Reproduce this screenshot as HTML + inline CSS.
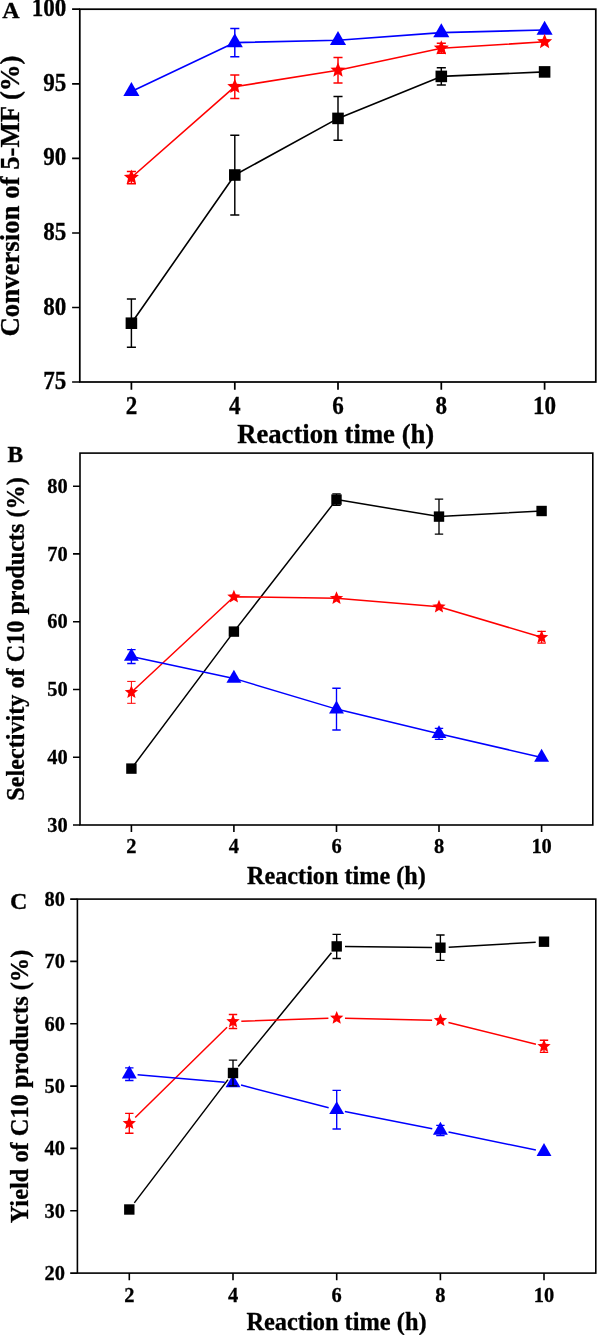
<!DOCTYPE html>
<html><head><meta charset="utf-8"><style>
html,body{margin:0;padding:0;background:#fff;}
svg{display:block;}
text{font-family:"Liberation Serif",serif;font-weight:bold;fill:#000;stroke:#000;stroke-width:0.3px;}
svg{will-change:transform;}
</style></head><body>
<svg width="597" height="1335" viewBox="0 0 597 1335" font-family="'Liberation Serif', serif" font-weight="bold">
<rect width="597" height="1335" fill="#fff"/>
<rect x="79.8" y="9.2" width="516.0" height="372.8" fill="none" stroke="#000" stroke-width="1.73"/>
<path d="M72.10,9.20H79.80M72.10,83.80H79.80M72.10,158.40H79.80M72.10,233.00H79.80M72.10,307.50H79.80M72.10,382.00H79.80M131.40,382.00V389.70M234.80,382.00V389.70M338.00,382.00V389.70M441.30,382.00V389.70M544.60,382.00V389.70" stroke="#000" stroke-width="1.73" fill="none"/>
<text x="0" y="0" transform="translate(66.30,16.20) scale(0.95,1)" font-size="24.3" text-anchor="end">100</text>
<text x="0" y="0" transform="translate(66.30,90.80) scale(0.95,1)" font-size="24.3" text-anchor="end">95</text>
<text x="0" y="0" transform="translate(66.30,165.40) scale(0.95,1)" font-size="24.3" text-anchor="end">90</text>
<text x="0" y="0" transform="translate(66.30,240.00) scale(0.95,1)" font-size="24.3" text-anchor="end">85</text>
<text x="0" y="0" transform="translate(66.30,314.50) scale(0.95,1)" font-size="24.3" text-anchor="end">80</text>
<text x="0" y="0" transform="translate(66.30,389.00) scale(0.95,1)" font-size="24.3" text-anchor="end">75</text>
<text x="0" y="0" transform="translate(131.40,413.50) scale(0.95,1)" font-size="24.3" text-anchor="middle">2</text>
<text x="0" y="0" transform="translate(234.80,413.50) scale(0.95,1)" font-size="24.3" text-anchor="middle">4</text>
<text x="0" y="0" transform="translate(338.00,413.50) scale(0.95,1)" font-size="24.3" text-anchor="middle">6</text>
<text x="0" y="0" transform="translate(441.30,413.50) scale(0.95,1)" font-size="24.3" text-anchor="middle">8</text>
<text x="0" y="0" transform="translate(544.60,413.50) scale(0.95,1)" font-size="24.3" text-anchor="middle">10</text>
<text x="335.7" y="442.6" font-size="26.7" text-anchor="middle">Reaction time (h)</text>
<text x="0" y="0" transform="translate(18.8,196.0) rotate(-90)" font-size="26.8" text-anchor="middle">Conversion of 5-MF (%)</text>
<text x="2.2" y="18.2" font-size="24" text-anchor="start">A</text>
<path d="M131.40,323.20 L234.80,175.00 L338.00,118.40 L441.30,76.40 L544.60,71.90" stroke="#000000" stroke-width="1.62" fill="none" stroke-linejoin="round"/>
<path d="M131.40,177.50 L234.80,86.70 L338.00,70.30 L441.30,48.20 L544.60,41.80" stroke="#ff0000" stroke-width="1.62" fill="none" stroke-linejoin="round"/>
<path d="M131.40,91.40 L234.80,42.60 L338.00,40.30 L441.30,32.60 L544.60,30.00" stroke="#0000ff" stroke-width="1.62" fill="none" stroke-linejoin="round"/>
<polygon points="131.40,82.11 123.35,96.05 139.45,96.05" fill="#0000ff"/>
<path d="M234.80,28.60V56.70M230.26,28.60H239.34M230.26,56.70H239.34" stroke="#0000ff" stroke-width="1.4580000000000002" fill="none"/>
<polygon points="234.80,33.31 226.75,47.25 242.85,47.25" fill="#0000ff"/>
<polygon points="338.00,31.01 329.95,44.95 346.05,44.95" fill="#0000ff"/>
<polygon points="441.30,23.31 433.25,37.25 449.35,37.25" fill="#0000ff"/>
<polygon points="544.60,20.71 536.55,34.65 552.65,34.65" fill="#0000ff"/>
<path d="M131.40,171.40V183.70M126.86,171.40H135.94M126.86,183.70H135.94" stroke="#ff0000" stroke-width="1.4580000000000002" fill="none"/>
<polygon points="131.40,169.56 133.50,174.61 138.95,175.05 134.80,178.60 136.07,183.92 131.40,181.07 126.73,183.92 128.00,178.60 123.85,175.05 129.30,174.61" fill="#ff0000"/>
<path d="M234.80,74.90V98.50M230.26,74.90H239.34M230.26,98.50H239.34" stroke="#ff0000" stroke-width="1.4580000000000002" fill="none"/>
<polygon points="234.80,78.76 236.90,83.81 242.35,84.25 238.20,87.80 239.47,93.12 234.80,90.27 230.13,93.12 231.40,87.80 227.25,84.25 232.70,83.81" fill="#ff0000"/>
<path d="M338.00,57.60V83.00M333.46,57.60H342.54M333.46,83.00H342.54" stroke="#ff0000" stroke-width="1.4580000000000002" fill="none"/>
<polygon points="338.00,62.36 340.10,67.41 345.55,67.85 341.40,71.40 342.67,76.72 338.00,73.87 333.33,76.72 334.60,71.40 330.45,67.85 335.90,67.41" fill="#ff0000"/>
<path d="M441.30,43.20V53.20M436.76,43.20H445.84M436.76,53.20H445.84" stroke="#ff0000" stroke-width="1.4580000000000002" fill="none"/>
<polygon points="441.30,40.26 443.40,45.31 448.85,45.75 444.70,49.30 445.97,54.62 441.30,51.77 436.63,54.62 437.90,49.30 433.75,45.75 439.20,45.31" fill="#ff0000"/>
<polygon points="544.60,33.86 546.70,38.91 552.15,39.35 548.00,42.90 549.27,48.22 544.60,45.37 539.93,48.22 541.20,42.90 537.05,39.35 542.50,38.91" fill="#ff0000"/>
<path d="M131.40,299.00V347.20M126.86,299.00H135.94M126.86,347.20H135.94" stroke="#000000" stroke-width="1.4580000000000002" fill="none"/>
<rect x="125.62" y="317.42" width="11.56896" height="11.56896" fill="#000"/>
<path d="M234.80,135.20V214.90M230.26,135.20H239.34M230.26,214.90H239.34" stroke="#000000" stroke-width="1.4580000000000002" fill="none"/>
<rect x="229.02" y="169.22" width="11.56896" height="11.56896" fill="#000"/>
<path d="M338.00,96.50V140.30M333.46,96.50H342.54M333.46,140.30H342.54" stroke="#000000" stroke-width="1.4580000000000002" fill="none"/>
<rect x="332.22" y="112.62" width="11.56896" height="11.56896" fill="#000"/>
<path d="M441.30,67.80V85.10M436.76,67.80H445.84M436.76,85.10H445.84" stroke="#000000" stroke-width="1.4580000000000002" fill="none"/>
<rect x="435.52" y="70.62" width="11.56896" height="11.56896" fill="#000"/>
<rect x="538.82" y="66.12" width="11.56896" height="11.56896" fill="#000"/>
<rect x="80.0" y="453.1" width="512.8" height="371.9" fill="none" stroke="#000" stroke-width="1.60"/>
<path d="M73.00,825.00H80.00M73.00,757.20H80.00M73.00,689.50H80.00M73.00,621.70H80.00M73.00,553.90H80.00M73.00,486.20H80.00M131.40,825.00V832.00M233.90,825.00V832.00M336.50,825.00V832.00M439.00,825.00V832.00M541.60,825.00V832.00" stroke="#000" stroke-width="1.60" fill="none"/>
<text x="0" y="0" transform="translate(67.70,831.70) scale(0.93,1)" font-size="22" text-anchor="end">30</text>
<text x="0" y="0" transform="translate(67.70,763.90) scale(0.93,1)" font-size="22" text-anchor="end">40</text>
<text x="0" y="0" transform="translate(67.70,696.20) scale(0.93,1)" font-size="22" text-anchor="end">50</text>
<text x="0" y="0" transform="translate(67.70,628.40) scale(0.93,1)" font-size="22" text-anchor="end">60</text>
<text x="0" y="0" transform="translate(67.70,560.60) scale(0.93,1)" font-size="22" text-anchor="end">70</text>
<text x="0" y="0" transform="translate(67.70,492.90) scale(0.93,1)" font-size="22" text-anchor="end">80</text>
<text x="0" y="0" transform="translate(131.40,853.40) scale(0.93,1)" font-size="22" text-anchor="middle">2</text>
<text x="0" y="0" transform="translate(233.90,853.40) scale(0.93,1)" font-size="22" text-anchor="middle">4</text>
<text x="0" y="0" transform="translate(336.50,853.40) scale(0.93,1)" font-size="22" text-anchor="middle">6</text>
<text x="0" y="0" transform="translate(439.00,853.40) scale(0.93,1)" font-size="22" text-anchor="middle">8</text>
<text x="0" y="0" transform="translate(541.60,853.40) scale(0.93,1)" font-size="22" text-anchor="middle">10</text>
<text x="336.4" y="883.6" font-size="24.2" text-anchor="middle">Reaction time (h)</text>
<text x="0" y="0" transform="translate(23.8,639.0) rotate(-90)" font-size="24.2" text-anchor="middle">Selectivity of C10 products (%)</text>
<text x="7.6" y="462.2" font-size="23.5" text-anchor="start">B</text>
<path d="M131.40,768.60 L233.90,631.60 L336.50,499.60 L439.00,516.60 L541.60,511.00" stroke="#000000" stroke-width="1.50" fill="none" stroke-linejoin="round"/>
<path d="M131.40,692.30 L233.90,596.80 L336.50,598.30 L439.00,606.80 L541.60,637.30" stroke="#ff0000" stroke-width="1.50" fill="none" stroke-linejoin="round"/>
<path d="M131.40,656.50 L233.90,678.40 L336.50,709.10 L439.00,733.80 L541.60,757.40" stroke="#0000ff" stroke-width="1.50" fill="none" stroke-linejoin="round"/>
<path d="M131.40,649.60V663.50M127.20,649.60H135.60M127.20,663.50H135.60" stroke="#0000ff" stroke-width="1.35" fill="none"/>
<polygon points="131.40,647.90 123.95,660.80 138.85,660.80" fill="#0000ff"/>
<polygon points="233.90,669.80 226.45,682.70 241.35,682.70" fill="#0000ff"/>
<path d="M336.50,688.20V730.00M332.30,688.20H340.70M332.30,730.00H340.70" stroke="#0000ff" stroke-width="1.35" fill="none"/>
<polygon points="336.50,700.50 329.05,713.40 343.95,713.40" fill="#0000ff"/>
<path d="M439.00,728.40V739.30M434.80,728.40H443.20M434.80,739.30H443.20" stroke="#0000ff" stroke-width="1.35" fill="none"/>
<polygon points="439.00,725.20 431.55,738.10 446.45,738.10" fill="#0000ff"/>
<polygon points="541.60,748.80 534.15,761.70 549.05,761.70" fill="#0000ff"/>
<path d="M131.40,681.40V703.30M127.20,681.40H135.60M127.20,703.30H135.60" stroke="#ff0000" stroke-width="1.0" fill="none"/>
<polygon points="131.40,685.30 133.25,689.75 138.06,690.14 134.40,693.27 135.51,697.96 131.40,695.45 127.29,697.96 128.40,693.27 124.74,690.14 129.55,689.75" fill="#ff0000"/>
<polygon points="233.90,589.80 235.75,594.25 240.56,594.64 236.90,597.77 238.01,602.46 233.90,599.95 229.79,602.46 230.90,597.77 227.24,594.64 232.05,594.25" fill="#ff0000"/>
<polygon points="336.50,591.30 338.35,595.75 343.16,596.14 339.50,599.27 340.61,603.96 336.50,601.45 332.39,603.96 333.50,599.27 329.84,596.14 334.65,595.75" fill="#ff0000"/>
<polygon points="439.00,599.80 440.85,604.25 445.66,604.64 442.00,607.77 443.11,612.46 439.00,609.95 434.89,612.46 436.00,607.77 432.34,604.64 437.15,604.25" fill="#ff0000"/>
<path d="M541.60,631.40V643.10M537.40,631.40H545.80M537.40,643.10H545.80" stroke="#ff0000" stroke-width="1.35" fill="none"/>
<polygon points="541.60,630.30 543.45,634.75 548.26,635.14 544.60,638.27 545.71,642.96 541.60,640.45 537.49,642.96 538.60,638.27 534.94,635.14 539.75,634.75" fill="#ff0000"/>
<rect x="126.20" y="763.40" width="10.4" height="10.4" fill="#000"/>
<rect x="228.70" y="626.40" width="10.4" height="10.4" fill="#000"/>
<path d="M336.50,493.80V505.40M332.30,493.80H340.70M332.30,505.40H340.70" stroke="#000000" stroke-width="1.35" fill="none"/>
<rect x="331.30" y="494.40" width="10.4" height="10.4" fill="#000"/>
<path d="M439.00,499.10V534.10M434.80,499.10H443.20M434.80,534.10H443.20" stroke="#000000" stroke-width="1.35" fill="none"/>
<rect x="433.80" y="511.40" width="10.4" height="10.4" fill="#000"/>
<rect x="536.40" y="505.80" width="10.4" height="10.4" fill="#000"/>
<rect x="77.4" y="899.1" width="518.4" height="373.9999999999999" fill="none" stroke="#000" stroke-width="1.60"/>
<path d="M70.20,1273.10H77.40M70.20,1210.80H77.40M70.20,1148.40H77.40M70.20,1086.10H77.40M70.20,1023.80H77.40M70.20,961.40H77.40M70.20,899.10H77.40M129.30,1273.10V1280.30M233.00,1273.10V1280.30M336.70,1273.10V1280.30M440.40,1273.10V1280.30M544.00,1273.10V1280.30" stroke="#000" stroke-width="1.60" fill="none"/>
<text x="0" y="0" transform="translate(64.90,1280.00) scale(0.93,1)" font-size="22" text-anchor="end">20</text>
<text x="0" y="0" transform="translate(64.90,1217.70) scale(0.93,1)" font-size="22" text-anchor="end">30</text>
<text x="0" y="0" transform="translate(64.90,1155.30) scale(0.93,1)" font-size="22" text-anchor="end">40</text>
<text x="0" y="0" transform="translate(64.90,1093.00) scale(0.93,1)" font-size="22" text-anchor="end">50</text>
<text x="0" y="0" transform="translate(64.90,1030.70) scale(0.93,1)" font-size="22" text-anchor="end">60</text>
<text x="0" y="0" transform="translate(64.90,968.30) scale(0.93,1)" font-size="22" text-anchor="end">70</text>
<text x="0" y="0" transform="translate(64.90,906.00) scale(0.93,1)" font-size="22" text-anchor="end">80</text>
<text x="0" y="0" transform="translate(129.30,1302.00) scale(0.93,1)" font-size="22" text-anchor="middle">2</text>
<text x="0" y="0" transform="translate(233.00,1302.00) scale(0.93,1)" font-size="22" text-anchor="middle">4</text>
<text x="0" y="0" transform="translate(336.70,1302.00) scale(0.93,1)" font-size="22" text-anchor="middle">6</text>
<text x="0" y="0" transform="translate(440.40,1302.00) scale(0.93,1)" font-size="22" text-anchor="middle">8</text>
<text x="0" y="0" transform="translate(544.00,1302.00) scale(0.93,1)" font-size="22" text-anchor="middle">10</text>
<text x="336.5" y="1329.8" font-size="24.4" text-anchor="middle">Reaction time (h)</text>
<text x="0" y="0" transform="translate(27.5,1086.5) rotate(-90)" font-size="24.4" text-anchor="middle">Yield of C10 products (%)</text>
<text x="10.0" y="908.6" font-size="24" text-anchor="start">C</text>
<path d="M134.32,1202.89L227.98,1079.61M238.26,1066.58L331.44,952.82M345.00,946.50L432.10,947.60M448.69,947.22L535.71,942.18" stroke="#000000" stroke-width="1.50" fill="none"/>
<path d="M135.22,1117.49L227.08,1027.31M241.30,1021.22L328.40,1018.28M345.00,1018.19L432.10,1020.21M448.45,1022.41L535.95,1044.29" stroke="#ff0000" stroke-width="1.50" fill="none"/>
<path d="M137.57,1074.81L224.73,1082.29M241.04,1085.08L328.66,1107.72M344.84,1111.42L432.26,1128.78M448.53,1132.07L535.87,1150.03" stroke="#0000ff" stroke-width="1.50" fill="none"/>
<path d="M129.30,1067.80V1080.50M125.10,1067.80H133.50M125.10,1080.50H133.50" stroke="#0000ff" stroke-width="1.35" fill="none"/>
<polygon points="129.30,1065.50 121.85,1078.40 136.75,1078.40" fill="#0000ff"/>
<polygon points="233.00,1074.40 225.55,1087.30 240.45,1087.30" fill="#0000ff"/>
<path d="M336.70,1090.30V1129.00M332.50,1090.30H340.90M332.50,1129.00H340.90" stroke="#0000ff" stroke-width="1.35" fill="none"/>
<polygon points="336.70,1101.20 329.25,1114.10 344.15,1114.10" fill="#0000ff"/>
<path d="M440.40,1125.40V1135.60M436.20,1125.40H444.60M436.20,1135.60H444.60" stroke="#0000ff" stroke-width="1.35" fill="none"/>
<polygon points="440.40,1121.80 432.95,1134.70 447.85,1134.70" fill="#0000ff"/>
<polygon points="544.00,1143.10 536.55,1156.00 551.45,1156.00" fill="#0000ff"/>
<path d="M129.30,1113.40V1133.20M125.10,1113.40H133.50M125.10,1133.20H133.50" stroke="#ff0000" stroke-width="1.35" fill="none"/>
<polygon points="129.30,1116.30 131.15,1120.75 135.96,1121.14 132.30,1124.27 133.41,1128.96 129.30,1126.45 125.19,1128.96 126.30,1124.27 122.64,1121.14 127.45,1120.75" fill="#ff0000"/>
<path d="M233.00,1014.50V1028.50M228.80,1014.50H237.20M228.80,1028.50H237.20" stroke="#ff0000" stroke-width="1.35" fill="none"/>
<polygon points="233.00,1014.50 234.85,1018.95 239.66,1019.34 236.00,1022.47 237.11,1027.16 233.00,1024.65 228.89,1027.16 230.00,1022.47 226.34,1019.34 231.15,1018.95" fill="#ff0000"/>
<polygon points="336.70,1011.00 338.55,1015.45 343.36,1015.84 339.70,1018.97 340.81,1023.66 336.70,1021.15 332.59,1023.66 333.70,1018.97 330.04,1015.84 334.85,1015.45" fill="#ff0000"/>
<polygon points="440.40,1013.40 442.25,1017.85 447.06,1018.24 443.40,1021.37 444.51,1026.06 440.40,1023.55 436.29,1026.06 437.40,1021.37 433.74,1018.24 438.55,1017.85" fill="#ff0000"/>
<path d="M544.00,1040.20V1052.40M539.80,1040.20H548.20M539.80,1052.40H548.20" stroke="#ff0000" stroke-width="1.35" fill="none"/>
<polygon points="544.00,1039.30 545.85,1043.75 550.66,1044.14 547.00,1047.27 548.11,1051.96 544.00,1049.45 539.89,1051.96 541.00,1047.27 537.34,1044.14 542.15,1043.75" fill="#ff0000"/>
<rect x="124.10" y="1204.30" width="10.4" height="10.4" fill="#000"/>
<path d="M233.00,1060.10V1085.90M228.80,1060.10H237.20M228.80,1085.90H237.20" stroke="#000000" stroke-width="1.35" fill="none"/>
<rect x="227.80" y="1067.80" width="10.4" height="10.4" fill="#000"/>
<path d="M336.70,934.30V958.50M332.50,934.30H340.90M332.50,958.50H340.90" stroke="#000000" stroke-width="1.35" fill="none"/>
<rect x="331.50" y="941.20" width="10.4" height="10.4" fill="#000"/>
<path d="M440.40,935.00V960.30M436.20,935.00H444.60M436.20,960.30H444.60" stroke="#000000" stroke-width="1.35" fill="none"/>
<rect x="435.20" y="942.50" width="10.4" height="10.4" fill="#000"/>
<rect x="538.80" y="936.50" width="10.4" height="10.4" fill="#000"/>
</svg>
</body></html>
